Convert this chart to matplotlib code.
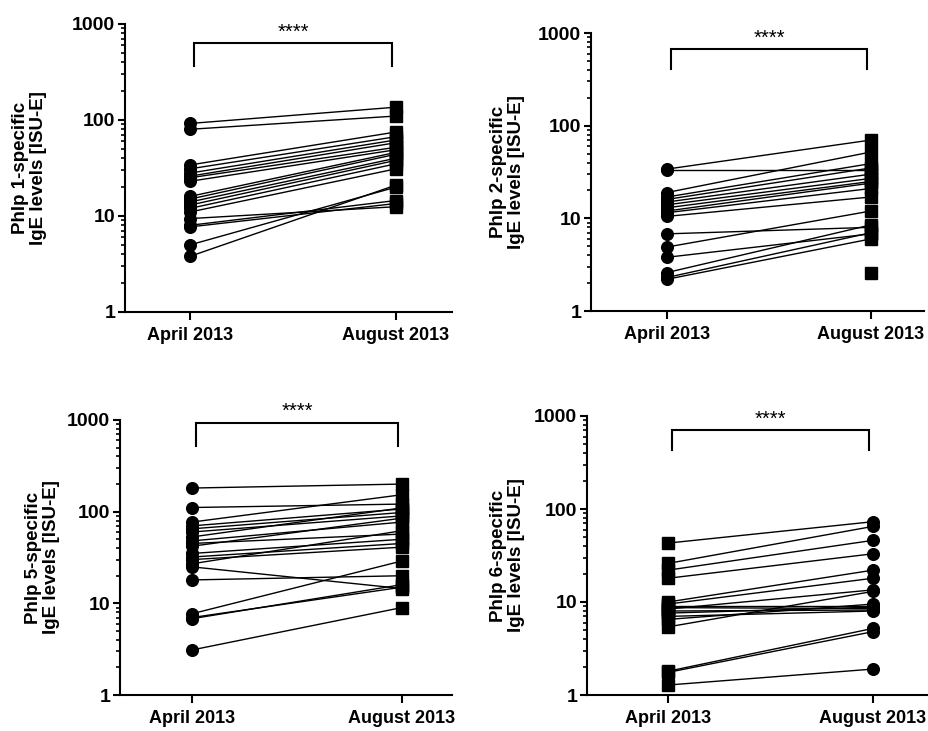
import numpy as np
import matplotlib
matplotlib.use("Agg")
import matplotlib.pyplot as plt

plt.rcParams['font.family'] = ['Liberation Sans', 'DejaVu Sans']

categories = ["April 2013", "August 2013"]
ylabels = ["Phlp 1-specific\nIgE levels [ISU-E]",
           "Phlp 2-specific\nIgE levels [ISU-E]",
           "Phlp 5-specific\nIgE levels [ISU-E]",
           "Phlp 6-specific\nIgE levels [ISU-E]"]
significance = ["****", "****", "****", "****"]

p1_april  = [92, 80, 34, 31, 28, 26, 25, 23, 16, 15, 14, 13, 12, 11, 9.4, 8.0, 7.7, 5.0, 3.8]
p1_august = [136, 110, 75, 67, 62, 58, 52, 49, 46, 44, 40, 38, 35, 31, 12.5, 14.5, 13.5, 20, 21]

p2_april  = [34, 33, 19, 17, 16, 15, 14, 13, 12, 11.5, 10.5, 6.8, 4.9, 3.8, 2.6, 2.3, 2.2, np.nan]
p2_august = [70, 33, 52, 39, 35, 30, 27, 25, 24, 21, 17, 8.0, 12, 6.8, 8.5, 7.0, 6.0, 2.6]

p3_april  = [181, 111, 77, 70, 65, 60, 53, 48, 45, 42, 35, 32, 30, 27, 25, 18, 7.7, 7.0, 6.8, 3.1]
p3_august = [200, 121, 153, 107, 98, 90, 110, 77, 57, 85, 50, 45, 41, 62, 14.5, 20, 29, 15, 16, 9.0]

p4_april  = [43, 26, 22, 18, 10, 9.5, 9.0, 8.7, 8.4, 8.0, 7.6, 7.0, 6.5, 5.4, 1.8, 1.75, 1.28]
p4_august = [73, 65, 46, 33, 22, 18, 9.0, 8.5, 13.5, 8.2, 8.8, 8.0, 9.5, 13, 5.2, 4.8, 1.9]

panels = [
    dict(april=p1_april, august=p1_august, mk=('o', 's'),
         rect=(125, 24, 452, 312), xpos=(190, 396), br=(634, 365), labx=-0.239),
    dict(april=p2_april, august=p2_august, mk=('o', 's'),
         rect=(591, 33, 924, 311), xpos=(667, 871), br=(670, 410), labx=-0.198),
    dict(april=p3_april, august=p3_august, mk=('o', 's'),
         rect=(120, 420, 452, 695), xpos=(192, 402), br=(935, 522), labx=-0.181),
    dict(april=p4_april, august=p4_august, mk=('s', 'o'),
         rect=(587, 416, 927, 695), xpos=(668, 873), br=(707, 430), labx=-0.182),
]

W, H = 929, 731
fig = plt.figure(figsize=(W / 100, H / 100), dpi=100)

for i, p in enumerate(panels):
    l, t, r, b = p['rect']
    ax = fig.add_axes([l / W, 1 - b / H, (r - l) / W, (b - t) / H])
    x0, x1 = p['xpos']
    unit = x1 - x0
    ax.set_xlim((l - x0) / unit, (r - x0) / unit)
    ax.set_yscale('log')
    ax.set_ylim(1, 1000)

    a = np.array(p['april'], dtype=float)
    g = np.array(p['august'], dtype=float)
    for va, vg in zip(a, g):
        if np.isfinite(va) and np.isfinite(vg):
            ax.plot([0, 1], [va, vg], color='black', lw=1.0, zorder=2)
    ms = {'o': 8.4, 's': 8.8}
    ax.plot(np.zeros(len(a)), a, linestyle='none', marker=p['mk'][0],
            ms=ms[p['mk'][0]], color='black', zorder=3, clip_on=False)
    ax.plot(np.ones(len(g)), g, linestyle='none', marker=p['mk'][1],
            ms=ms[p['mk'][1]], color='black', zorder=3, clip_on=False)

    ytop, yleg = p['br']
    ax.plot([0.02, 0.02, 0.98, 0.98], [yleg, ytop, ytop, yleg], color='black',
            lw=1.5, clip_on=False, solid_joinstyle='miter')
    ax.annotate(significance[i], xy=(0.5, ytop), xytext=(0, 4),
                textcoords='offset points', ha='center', va='baseline',
                fontsize=14.5, annotation_clip=False)

    for s in ['top', 'right']:
        ax.spines[s].set_visible(False)
    for s in ['left', 'bottom']:
        ax.spines[s].set_linewidth(1.5)

    ax.set_xticks([0, 1])
    ax.set_xticklabels(categories, fontsize=13, fontweight='bold')
    ax.set_yticks([1, 10, 100, 1000])
    ax.set_yticklabels(['1', '10', '100', '1000'], fontsize=14, fontweight='bold')
    ax.tick_params(axis='y', which='major', width=1.5, length=5, pad=2)
    ax.tick_params(axis='x', which='major', width=1.5, length=5.5, pad=5)
    ax.tick_params(axis='y', which='minor', width=1.2, length=3)
    ax.yaxis.set_minor_formatter(matplotlib.ticker.NullFormatter())
    ax.set_ylabel(ylabels[i], fontsize=13.5, fontweight='bold', linespacing=1.1)
    ax.yaxis.set_label_coords(p['labx'], 0.5)

fig.savefig('out.png', dpi=100)
